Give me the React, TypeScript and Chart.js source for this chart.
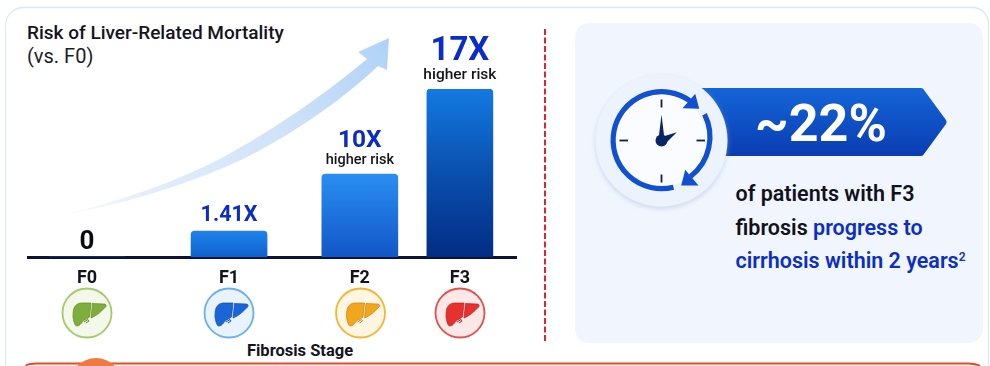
import React, { useEffect, useRef } from "react";
import { Chart, registerables, CategoryScale, LinearScale } from "chart.js";

Chart.register(...registerables);

const FONT = 'Roboto, sans-serif';

// Chart content
const stages = ["F0", "F1", "F2", "F3"];
const riskMultiples = [0, 1.41, 10, 17];
const riskLabels = ["0", "1.41X", "10X", "17X"];
const riskNotes = ["", "", "higher risk", "higher risk"];

// Axis spacing: the stages sit unevenly and the risk axis is not drawn to linear scale
const stageFractions = [0.121, 0.412, 0.68, 0.885];
const riskAxisFractions = [0, 0.155, 0.494, 1];

class StageScale extends CategoryScale {
  static id = "stage";
  static defaults = {};
  getPixelForValue(value: any) {
    const index = typeof value === "number" ? value : (this as any).parse(value);
    if (index === null) return NaN;
    return (this as any).left + stageFractions[Math.round(index)] * (this as any).width;
  }
}

class BrokenRiskScale extends LinearScale {
  static id = "brokenRisk";
  static defaults = {};
  getPixelForValue(value: number) {
    const self = this as any;
    let fraction = 1;
    for (let i = 1; i < riskMultiples.length; i++) {
      if (value <= riskMultiples[i]) {
        const t = (value - riskMultiples[i - 1]) / (riskMultiples[i] - riskMultiples[i - 1]);
        fraction = riskAxisFractions[i - 1] + t * (riskAxisFractions[i] - riskAxisFractions[i - 1]);
        break;
      }
    }
    return self.bottom - fraction * self.height;
  }
}

Chart.register(StageScale, BrokenRiskScale);

const barColors: Record<number, string[]> = {
  1: ["#1f82ea", "#0f62d0"],
  2: ["#2a8ef2", "#1256c8"],
  3: ["#1479e2", "#0a4fae", "#022d85"],
};

function barGradient(ctx: any) {
  const { chart, dataIndex, raw } = ctx;
  const stops = barColors[dataIndex];
  if (!stops || raw == null || !chart.chartArea) return "#1f82ea";
  const y = chart.scales.y;
  const g = chart.ctx.createLinearGradient(0, y.getPixelForValue(raw), 0, y.getPixelForValue(0));
  stops.forEach((c, i) => g.addColorStop(i / (stops.length - 1), c));
  return g;
}

// Value call-outs above each bar, sized up with the risk they state
const valueLabels = {
  id: "valueLabels",
  afterDatasetsDraw(chart: any) {
    const { ctx, scales } = chart;
    const styles = [
      { size: 26, gap: 8, color: "#0a0a12" },
      { size: 21.5, gap: 10, color: "#0b2cc6" },
      { size: 24.5, gap: 27, color: "#0b2cc6" },
      { size: 33, gap: 29, color: "#0b2cc6" },
    ];
    const noteSizes = [0, 0, 14.5, 15.5];
    const noteGaps = [0, 0, 10, 10];
    ctx.save();
    ctx.textAlign = "center";
    ctx.textBaseline = "alphabetic";
    riskMultiples.forEach((v, i) => {
      const x = scales.x.getPixelForValue(i);
      const top = scales.y.getPixelForValue(v);
      const s = styles[i];
      ctx.fillStyle = s.color;
      ctx.font = `700 ${s.size}px ${FONT}`;
      ctx.fillText(riskLabels[i], x, top - s.gap);
      if (riskNotes[i]) {
        ctx.fillStyle = "#14141c";
        ctx.font = `500 ${noteSizes[i]}px ${FONT}`;
        ctx.fillText(riskNotes[i], x, top - noteGaps[i]);
      }
    });
    ctx.restore();
  },
};

const LEFT_LOBE = "M-14,-5 C-12,-9 -9,-10 -6,-10 L3,-10 L1.5,4 C-1,6 -4,7 -5,8 C-7,11 -9,13 -11,13 C-13,13 -14,10 -15,4 C-15,1 -15,-2 -14,-5Z";
const RIGHT_LOBE = "M4.5,-9.5 L16,-9 C18,-9 19,-7 17.5,-6 C13,-1 8,3 3,5 Z";

const liverBadges = [
  { x: 87, ring: "#a5c96a", fill: "#f3f8ea", liver: "#7fae3c", edge: "#5f8a28" },
  { x: 229, ring: "#69b0ec", fill: "#e9f3fd", liver: "#1a66d8", edge: "#0f49ab" },
  { x: 360.5, ring: "#f2b632", fill: "#fef5e3", liver: "#f2a61c", edge: "#c9830e" },
  { x: 460, ring: "#e4504e", fill: "#fce8e6", liver: "#e5322f", edge: "#b91f1f" },
];

function LiverBadge({ x, ring, fill, liver, edge }: (typeof liverBadges)[number]) {
  return (
    <g transform={`translate(${x} 313)`}>
      <circle r={24.5} fill={fill} stroke={ring} strokeWidth={1.8} />
      <g transform="translate(1 0)">
        <path d={LEFT_LOBE} fill={liver} stroke={edge} strokeWidth={0.7} />
        <path d={RIGHT_LOBE} fill={liver} stroke={edge} strokeWidth={0.7} />
        <path d="M-4,9 L0,6.5 L1,8 L-2,10" fill="none" stroke={edge} strokeWidth={1} />
      </g>
    </g>
  );
}

function Backdrop() {
  return (
    <svg width={990} height={366} style={{ position: "absolute", left: 0, top: 0 }}>
      <defs>
        <linearGradient id="swoosh" gradientUnits="userSpaceOnUse" x1={45} y1={218} x2={389} y2={38}>
          <stop offset="0" stopColor="#e6f0fc" stopOpacity={0} />
          <stop offset="0.25" stopColor="#e4eefb" />
          <stop offset="0.65" stopColor="#cfe2f9" />
          <stop offset="1" stopColor="#b0d2f8" />
        </linearGradient>
        <linearGradient id="banner" x1="0" y1="0" x2="0" y2="1">
          <stop offset="0" stopColor="#1465d8" />
          <stop offset="1" stopColor="#0a3cb2" />
        </linearGradient>
        <filter id="discShadow" x="-20%" y="-20%" width="140%" height="140%">
          <feDropShadow dx={0} dy={2} stdDeviation={2.5} floodColor="#9fb8dc" floodOpacity={0.5} />
        </filter>
      </defs>

      <rect x={0} y={0} width={990} height={366} fill="#ffffff" />
      <path d="M5.5,366 V25 A18,18 0 0 1 23.5,7.5 H972 A16,16 0 0 1 988.5,24 V366" fill="#ffffff" stroke="#dde8f5" strokeWidth={1.3} />

      <text x={27} y={39} fontFamily={FONT} fontSize={19} fontWeight={500} fill="#14141f">Risk of Liver-Related Mortality</text>
      <text x={27} y={63} fontFamily={FONT} fontSize={20} fill="#1c1c28">(vs. F0)</text>

      <path
        d="M45,218 C110,206 190,178 241,147 C285,122 330,90 367,59 L358,52 L389,38 L387,70 L378,66 C340,102 290,136 241,160 C180,188 110,208 45,218 Z"
        fill="url(#swoosh)"
      />

      {liverBadges.map((b) => <LiverBadge key={b.x} {...b} />)}
      <text x={300} y={356} textAnchor="middle" fontFamily={FONT} fontSize={16.5} fontWeight={700} fill="#14141f">Fibrosis Stage</text>

      <line x1={545} y1={29} x2={545} y2={343} stroke="#e0252a" strokeWidth={2} strokeDasharray="6 2.5" />

      <rect x={575} y={23} width={408} height={320} rx={14} fill="#f1f6fe" />

      <path d="M700,88 H921 Q923,88 924,90 L946,120 Q947,122 946,124 L924,154 Q923,156 921,156 H700 Z" fill="url(#banner)" />
      <circle cx={661.5} cy={140.5} r={66} fill="#edf3fc" filter="url(#discShadow)" />
      <g transform="translate(661.5 140.5)">
        <circle r={46} fill="#fbfcff" />
        <g stroke="#0d1d55" strokeWidth={1.8}>
          <line x1={0} y1={-41} x2={0} y2={-33} />
          <line x1={35} y1={0} x2={43.5} y2={0} />
          <line x1={-42} y1={0} x2={-33.5} y2={0} />
          <line x1={0} y1={34} x2={0} y2={42} />
        </g>
        <path d="M12,46.7 A48.5,48.5 0 1 1 28.7,-39.5" fill="none" stroke="#1150cf" strokeWidth={5.2} />
        <path d="M43,-26.3 A50,50 0 0 1 29,36" fill="none" stroke="#1150cf" strokeWidth={5.2} />
        <path d="M33.7,-46.7 L37.7,-31.7 L21,-32.3 Z" fill="#1150cf" />
        <path d="M23.7,29.3 L37,45 L19.7,45 Z" fill="#1150cf" />
        <path d="M-3,-1 L0,-26 L3,-1 Z" fill="#0a2566" />
        <path d="M0,-3.5 L15.3,-8.3 L3,4 Z" fill="#0a2566" />
        <circle r={6} fill="#0a2566" />
      </g>

      <text x={821} y={141} textAnchor="middle" fontFamily={FONT} fontSize={52} fontWeight={700} fill="#ffffff">~22%</text>

      <g fontFamily={FONT} fontSize={21.5} fontWeight={600}>
        <text x={735.5} y={201} fill="#12121c">of patients with F3</text>
        <text x={735.5} y={234.5} fill="#12121c">fibrosis <tspan fill="#0b2fc2">progress to</tspan></text>
        <text x={735.5} y={268} fill="#0b2fc2">cirrhosis within 2 years<tspan fontSize={12} dy={-7}>2</tspan></text>
      </g>

      <path d="M26,366 Q27,363.5 37,363.5 H968 Q976,363.5 980,366" fill="#fff6ef" stroke="#e8492a" strokeWidth={2} />
      <circle cx={96} cy={384} r={26} fill="#ee7a42" />
    </svg>
  );
}

export default function App() {
  const canvasRef = useRef<HTMLCanvasElement>(null);

  useEffect(() => {
    const chart = new Chart(canvasRef.current!, {
      type: "bar",
      data: {
        labels: stages,
        datasets: [
          {
            data: riskMultiples.map((v, i) => (i < 3 ? v : null)),
            grouped: false,
            barPercentage: 1,
            categoryPercentage: 1,
            maxBarThickness: 76,
            backgroundColor: barGradient,
            borderRadius: { topLeft: 4, topRight: 4 },
            borderSkipped: "bottom",
          },
          {
            data: riskMultiples.map((v, i) => (i === 3 ? v : null)),
            grouped: false,
            barPercentage: 1,
            categoryPercentage: 1,
            maxBarThickness: 66,
            backgroundColor: barGradient,
            borderRadius: { topLeft: 4, topRight: 4 },
            borderSkipped: "bottom",
          },
        ] as any,
      },
      options: {
        responsive: false,
        animation: false,
        layout: { padding: { top: 89, left: 28, right: 474, bottom: 0 } },
        plugins: { legend: { display: false }, tooltip: { enabled: false } },
        scales: {
          x: {
            type: "stage",
            offset: true,
            grid: { display: false },
            border: { display: true, color: "#0d1238", width: 3 },
            ticks: {
              color: "#14141f",
              padding: 3,
              maxRotation: 0,
              autoSkip: false,
              font: { family: FONT, size: 18, weight: "700" },
            },
            afterFit(scale: any) {
              scale.height = 109;
            },
          },
          y: { type: "brokenRisk", display: false, min: 0, max: 17 },
        } as any,
      },
      plugins: [valueLabels],
    } as any);
    return () => chart.destroy();
  }, []);

  return (
    <div style={{ position: "absolute", left: 0, top: 0, width: 990, height: 366, overflow: "hidden" }}>
      <Backdrop />
      <canvas ref={canvasRef} width={990} height={366} style={{ position: "absolute", left: 0, top: 0, display: "block" }} />
    </div>
  );
}
